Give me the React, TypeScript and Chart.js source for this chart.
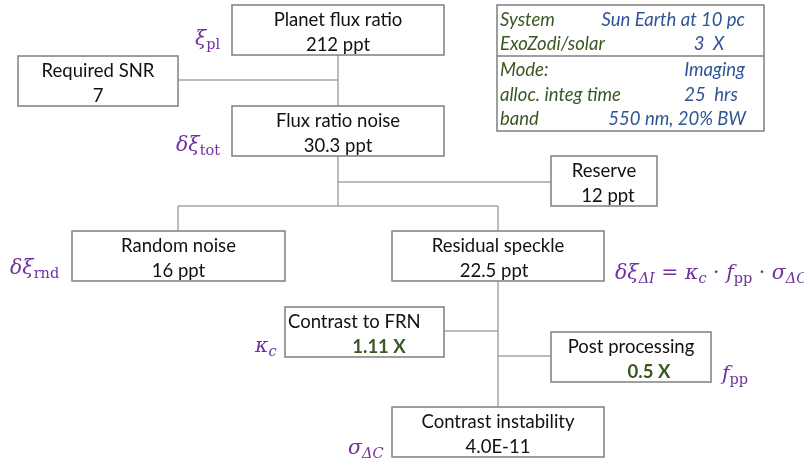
import React, { useEffect, useRef } from "react";
import { Chart, registerables } from "chart.js";

Chart.register(...registerables);

// ---------- data ----------
const nodeTitles = [
  "Planet flux ratio",
  "Required SNR",
  "Flux ratio noise",
  "Reserve",
  "Random noise",
  "Residual speckle",
  "Contrast to FRN",
  "Post processing",
  "Contrast instability",
];
const planetFluxPpt = 212;
const requiredSnr = 7;
const fluxNoisePpt = 30.3;
const reservePpt = 12;
const randomNoisePpt = 16;
const residualSpecklePpt = 22.5;
const contrastToFrn = 1.11;
const postProcessing = 0.5;
const contrastInstability = 4.0e-11;

const nodeValues = [
  `${planetFluxPpt} ppt`,
  `${requiredSnr}`,
  `${fluxNoisePpt} ppt`,
  `${reservePpt} ppt`,
  `${randomNoisePpt} ppt`,
  `${residualSpecklePpt} ppt`,
  `${contrastToFrn} X`,
  `${postProcessing} X`,
  contrastInstability.toExponential(1).toUpperCase(),
];

const infoLabels = ["System", "ExoZodi/solar", "Mode:", "alloc. integ time", "band"];
const infoValues = ["Sun Earth at 10 pc", "3  X", "Imaging", "25  hrs", "550 nm, 20% BW"];

// ---------- layout (diagram coordinates) ----------
const W = 804;
const H = 464;
const boxRects: number[][] = [
  [232, 5, 444, 55],
  [18, 56, 178, 106],
  [232, 106, 444, 156],
  [551, 156, 657, 206],
  [72, 231, 285, 281],
  [392, 231, 604, 281],
  [285, 307, 444, 357],
  [551, 332, 711, 382],
  [392, 407, 604, 457],
];
// title x (null = centred), value x (null = centred)
const titleX: (number | null)[] = [null, null, null, null, null, null, 288, null, null];
const valueX: (number | null)[] = [null, null, null, 608, null, 494, 379, 649, null];
const valueBold = [false, false, false, false, false, false, true, true, false];

const connectors: number[][] = [
  [338, 55, 338, 106],
  [178, 80, 338, 80],
  [338, 156, 338, 206],
  [338, 182, 551, 182],
  [178, 206, 498, 206],
  [178, 206, 178, 231],
  [498, 206, 498, 231],
  [498, 281, 498, 407],
  [444, 331, 498, 331],
  [498, 356, 551, 356],
];

const infoRect = [497, 5, 764, 131];
const infoDividerY = 56;
const infoRowY = [20, 44, 70, 95, 119];
const infoValueAnchor: { x: number; align: CanvasTextAlign }[] = [
  { x: 745, align: "right" },
  { x: 709, align: "center" },
  { x: 745, align: "right" },
  { x: 711, align: "center" },
  { x: 746, align: "right" },
];

type Part = { t: string; sub?: boolean; it?: boolean };
const mathLabels: { x: number; y: number; parts: Part[] }[] = [
  { x: 195, y: 45, parts: [{ t: "ξ", it: true }, { t: "pl", sub: true }] },
  { x: 176, y: 151, parts: [{ t: "δξ", it: true }, { t: "tot", sub: true }] },
  { x: 10, y: 274, parts: [{ t: "δξ", it: true }, { t: "rnd", sub: true }] },
  {
    x: 615,
    y: 279,
    parts: [
      { t: "δξ", it: true },
      { t: "ΔI", sub: true, it: true },
      { t: " = " },
      { t: "κ", it: true },
      { t: "c", sub: true, it: true },
      { t: " · " },
      { t: "f", it: true },
      { t: "pp", sub: true },
      { t: " · " },
      { t: "σ", it: true },
      { t: "ΔC", sub: true, it: true },
    ],
  },
  { x: 255, y: 352, parts: [{ t: "κ", it: true }, { t: "c", sub: true, it: true }] },
  { x: 722, y: 380, parts: [{ t: "f", it: true }, { t: "pp", sub: true }] },
  { x: 348, y: 454, parts: [{ t: "σ", it: true }, { t: "ΔC", sub: true, it: true }] },
];

const BOX_BORDER = "#7f7f7f";
const LINE_COLOR = "#a5a5a5";
const TEXT_COLOR = "#111111";
const GREEN = "#385723";
const BLUE = "#2f5597";
const PURPLE = "#7030a0";
const FONT = "Lato";
const FONT_SIZE = 18.5;
const MATH_FONT = '"DejaVu Serif"';

const diagramPlugin = {
  id: "diagram",
  afterDatasetsDraw(chart: any) {
    const ctx: CanvasRenderingContext2D = chart.ctx;
    const xs = chart.scales.x;
    const ys = chart.scales.y;
    const px = (v: number) => xs.getPixelForValue(v);
    const py = (v: number) => ys.getPixelForValue(v);

    ctx.save();
    // boxes
    boxRects.forEach((r, i) => {
      const x0 = px(r[0]);
      const y0 = py(r[1]);
      const x1 = px(r[2]);
      const y1 = py(r[3]);
      ctx.fillStyle = "#ffffff";
      ctx.fillRect(x0, y0, x1 - x0, y1 - y0);
      ctx.strokeStyle = BOX_BORDER;
      ctx.lineWidth = 1.5;
      ctx.strokeRect(x0, y0, x1 - x0, y1 - y0);

      ctx.textBaseline = "middle";
      ctx.fillStyle = TEXT_COLOR;
      ctx.font = `${FONT_SIZE}px ${FONT}`;
      const tx = titleX[i];
      if (tx === null) {
        ctx.textAlign = "center";
        ctx.fillText(nodeTitles[i], (x0 + x1) / 2, y0 + 15);
      } else {
        ctx.textAlign = "left";
        ctx.fillText(nodeTitles[i], px(tx), y0 + 15);
      }
      const vx = valueX[i];
      ctx.textAlign = "center";
      if (valueBold[i]) {
        ctx.font = `bold ${FONT_SIZE}px ${FONT}`;
        ctx.fillStyle = GREEN;
      }
      ctx.fillText(nodeValues[i], vx === null ? (x0 + x1) / 2 : px(vx), y0 + 40);
    });

    // info box
    {
      const x0 = px(infoRect[0]);
      const y0 = py(infoRect[1]);
      const x1 = px(infoRect[2]);
      const y1 = py(infoRect[3]);
      ctx.strokeStyle = BOX_BORDER;
      ctx.lineWidth = 1.5;
      ctx.strokeRect(x0, y0, x1 - x0, y1 - y0);
      ctx.beginPath();
      ctx.moveTo(x0, py(infoDividerY));
      ctx.lineTo(x1, py(infoDividerY));
      ctx.stroke();
      ctx.font = `italic ${FONT_SIZE}px ${FONT}`;
      ctx.textBaseline = "middle";
      infoLabels.forEach((lab, i) => {
        ctx.fillStyle = GREEN;
        ctx.textAlign = "left";
        ctx.fillText(lab, x0 + 3, py(infoRowY[i]));
        ctx.fillStyle = BLUE;
        ctx.textAlign = infoValueAnchor[i].align;
        ctx.fillText(infoValues[i], px(infoValueAnchor[i].x), py(infoRowY[i]));
      });
    }

    // math labels
    ctx.fillStyle = PURPLE;
    ctx.textBaseline = "alphabetic";
    ctx.textAlign = "left";
    mathLabels.forEach((m) => {
      let x = px(m.x);
      const base = py(m.y);
      m.parts.forEach((p) => {
        const size = p.sub ? 14.5 : 20.5;
        ctx.font = `${p.it ? "italic " : ""}${size}px ${MATH_FONT}`;
        ctx.fillText(p.t, x, p.sub ? base + 4 : base);
        x += ctx.measureText(p.t).width;
      });
    });
    ctx.restore();
  },
};

export default function App() {
  const canvasRef = useRef<HTMLCanvasElement | null>(null);

  useEffect(() => {
    const prevMargin = document.body.style.margin;
    document.body.style.margin = "0";
    if (!canvasRef.current) return;
    const chart = new Chart(canvasRef.current, {
      type: "scatter",
      data: {
        datasets: connectors.map((c) => ({
          type: "line" as const,
          data: [
            { x: c[0], y: c[1] },
            { x: c[2], y: c[3] },
          ],
          borderColor: LINE_COLOR,
          borderWidth: 1.5,
          pointRadius: 0,
          showLine: true,
          fill: false,
        })),
      },
      options: {
        animation: false,
        responsive: true,
        maintainAspectRatio: false,
        layout: { padding: 0 },
        plugins: {
          legend: { display: false },
          tooltip: { enabled: false },
          title: { display: false },
        },
        events: [],
        scales: {
          x: { type: "linear", min: 0, max: W, display: false },
          y: { type: "linear", min: 0, max: H, reverse: true, display: false },
        },
      },
      plugins: [diagramPlugin],
    });
    return () => {
      chart.destroy();
      document.body.style.margin = prevMargin;
    };
  }, []);

  return (
    <div style={{ position: "fixed", left: 0, top: 0, width: W, height: H, background: "#ffffff" }}>
      <canvas ref={canvasRef} />
    </div>
  );
}
